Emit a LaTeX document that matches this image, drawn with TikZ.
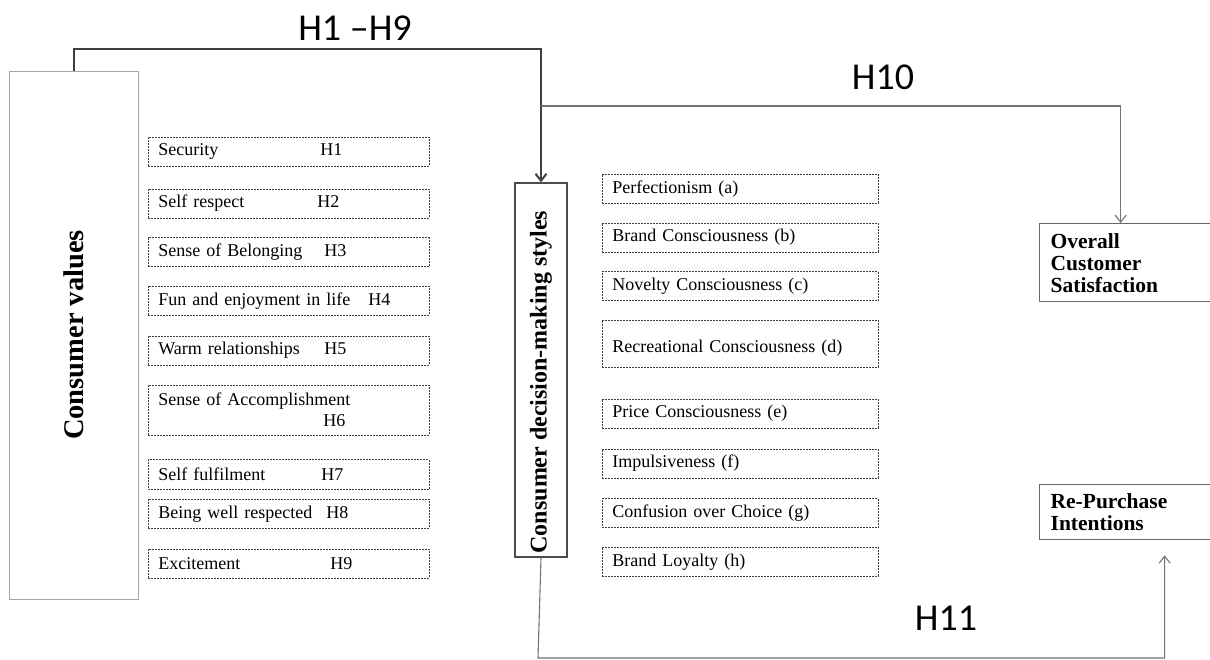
\documentclass[tikz,border=0pt]{standalone}
\usepackage{fontspec}
\setmainfont{Liberation Serif}
\newfontfamily\hypfont{Carlito}
\usepackage{tikz}
\usetikzlibrary{arrows.meta,positioning,calc}

\begin{document}
\begin{tikzpicture}[
    x=1pt, y=-1pt,
    >={Straight Barb[length=7pt,width=11pt]},
    valbox/.style={rectangle, draw=black!75, dash pattern=on 2pt off 1pt, line width=0.7pt, text width=261pt, inner xsep=10pt, minimum height=29pt, align=left, font=\fontsize{18pt}{21.6pt}\selectfont},
    stylebox/.style={valbox, text width=256pt},
    mainbox/.style={rectangle, draw, rotate=90},
    outbox/.style={rectangle, draw=black!60, line width=1.3pt, text width=151pt, inner xsep=11pt, align=left, font=\fontsize{21.5pt}{22pt}\selectfont\bfseries},
    hlabel/.style={font=\hypfont\fontsize{38pt}{44pt}\selectfont},
    arrow/.style={->, draw=black!75, line width=2pt},
    thinarrow/.style={->, draw=black!55, line width=1.1pt},
    node distance=19pt
]
    \useasboundingbox (0,0) rectangle (1210,659);
    \clip (0,0) rectangle (1210,659);

    % Main constructs
    \node[mainbox, draw=black!35, line width=1pt, minimum width=528pt, minimum height=129pt, font=\fontsize{28.5pt}{32pt}\selectfont\bfseries] (cval) at (73.5,335) {Consumer values};
    \node[mainbox, draw=black!70, line width=1.3pt, minimum width=374pt, minimum height=52pt, font=\fontsize{24pt}{28pt}\selectfont\bfseries] (cdm) at (541,370) {Consumer decision-making styles\hspace*{24pt}};

    % Outcomes
    \node[outbox, anchor=north west, minimum height=78pt] (osat) at (1039,223) {Overall\\Customer\\Satisfaction};
    \node[outbox, anchor=north west, minimum height=55pt] (rep) at (1039,484) {Re-Purchase\\Intentions};

    % Consumer values items
    \node[valbox, anchor=north west] (secur) at (148,137) {\makebox[162pt][l]{Security}H1};
    \node[valbox, below=22pt of secur] (selfresp) {\makebox[159pt][l]{Self respect}H2};
    \node[valbox, below=of selfresp] (belong) {\makebox[166pt][l]{Sense of Belonging}H3};
    \node[valbox, below=of belong] (fun) {\makebox[210pt][l]{Fun and enjoyment in life}H4};
    \node[valbox, below=20pt of fun] (warm) {\makebox[166pt][l]{Warm relationships}H5};
    \node[valbox, below=of warm, minimum height=50pt] (accomp) {Sense of Accomplishment\\\hspace*{165pt}H6};
    \node[valbox, below=24pt of accomp, minimum height=30pt] (fulfil) {\makebox[163pt][l]{Self fulfilment}H7};
    \node[valbox, below=9pt of fulfil] (wellresp) {\makebox[168pt][l]{Being well respected}H8};
    \node[valbox, below=20pt of wellresp] (excite) {\makebox[172pt][l]{Excitement}H9};

    % Decision-making style items
    \node[stylebox, anchor=north west] (perf) at (602,174) {Perfectionism (a)};
    \node[stylebox, below=of perf] (brand) {Brand Consciousness (b)};
    \node[stylebox, below=of brand] (novel) {Novelty Consciousness (c)};
    \node[stylebox, below=of novel, minimum height=47pt] (recre) {\mbox{}\\Recreational Consciousness (d)};
    \node[stylebox, below=31pt of recre] (price) {Price Consciousness (e)};
    \node[stylebox, below=20pt of price] (impuls) {Impulsiveness (f)};
    \node[stylebox, below=20pt of impuls] (confus) {Confusion over Choice (g)};
    \node[stylebox, below=of confus] (loyal) {Brand Loyalty (h)};

    % Hypothesis paths
    \coordinate (topline) at (300,49);
    \draw[arrow] (cval.east) -- (cval.east |- topline) -| (cdm.east);

    \coordinate (h10start) at (541,106);
    \draw[thinarrow] (h10start) -| ([xshift=-5.5pt]osat.north);

    \coordinate (h11corner) at (538,658);
    \coordinate (h11end) at ([xshift=38.5pt, yshift=-15pt]rep.south);
    \draw[thinarrow] (cdm.west) -- (h11corner) -| (h11end);

    % Labels
    \node[hlabel] (lab19) at (355,28) {H1 \textendash H9};
    \node[hlabel] (lab10) at (883,77) {H10};
    \node[hlabel] (lab11) at (946,618) {H11};

\end{tikzpicture}
\end{document}
